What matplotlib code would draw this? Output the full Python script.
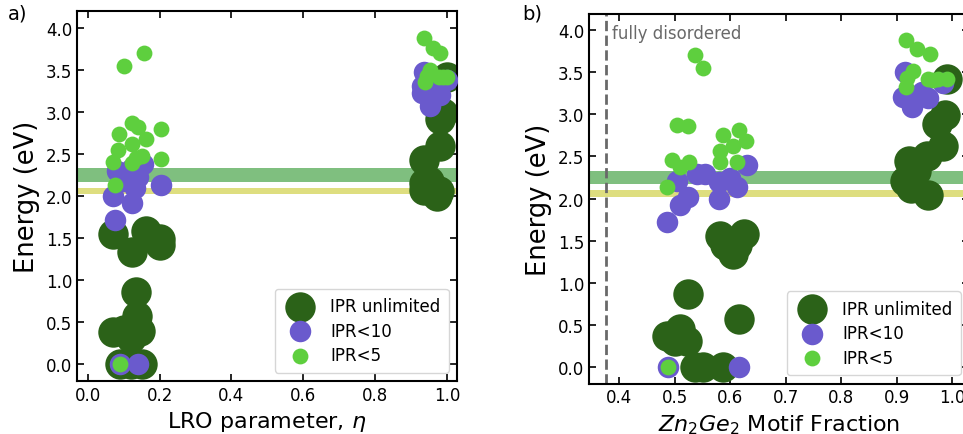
import numpy as np
import matplotlib
matplotlib.use('Agg')
import matplotlib.pyplot as plt

# ---- data ----
# panel a) LRO parameter eta
eta_unl = [0.07, 0.163, 0.20, 0.20, 0.124, 0.133, 0.137, 0.07, 0.12, 0.144, 0.10, 0.09, 0.15, 0.12,
           0.935, 0.935, 0.935, 0.972, 0.981, 0.98, 0.99, 1.0, 0.949, 0.977]
E_unl_a = [1.55, 1.58, 1.49, 1.42, 1.33, 0.86, 0.57, 0.38, 0.31, 0.40, 0.41, 0.0, 0.0, 0.0,
           2.43, 2.16, 2.07, 2.00, 2.59, 2.91, 2.99, 3.42, 2.18, 2.06]
eta_10 = [0.07, 0.077, 0.124, 0.203, 0.08, 0.155, 0.14, 0.11, 0.13, 0.10, 0.12, 0.091, 0.14,
          0.935, 0.93, 0.93, 0.953, 0.98, 1.0, 0.96]
E_10_a = [2.00, 1.71, 1.92, 2.13, 2.30, 2.38, 2.23, 2.25, 2.10, 2.18, 2.32, 0.0, 0.0,
          3.48, 3.31, 3.22, 3.07, 3.20, 3.38, 3.30]
eta_5 = [0.10, 0.156, 0.124, 0.14, 0.086, 0.203, 0.163, 0.124, 0.085, 0.07, 0.124, 0.15, 0.203,
         0.077, 0.135, 0.091,
         0.935, 0.96, 0.98, 0.953, 0.94, 0.977, 1.0, 0.99, 0.945]
E_5_a = [3.55, 3.70, 2.87, 2.82, 2.74, 2.80, 2.68, 2.62, 2.55, 2.41, 2.39, 2.47, 2.44,
         2.13, 2.45, 0.0,
         3.88, 3.76, 3.70, 3.50, 3.35, 3.42, 3.42, 3.42, 3.43]

# panel b) Zn2Ge2 motif fraction
frac_unl = [0.581, 0.625, 0.604, 0.612, 0.59, 0.523, 0.616, 0.485, 0.509, 0.521, 0.50,
            0.536, 0.55, 0.586,
            0.987, 0.972, 0.984, 0.954, 0.921, 0.935, 0.915, 0.925, 0.956, 0.99]
E_unl_b = [1.56, 1.58, 1.34, 1.45, 1.45, 0.87, 0.57, 0.37, 0.45, 0.31, 0.30,
           0.0, 0.0, 0.0,
           2.99, 2.89, 2.63, 2.51, 2.45, 2.33, 2.21, 2.12, 2.04, 3.42]
frac_10 = [0.486, 0.509, 0.524, 0.503, 0.539, 0.554, 0.58, 0.58, 0.611, 0.63, 0.60, 0.488, 0.616,
           0.915, 0.911, 0.927, 0.957, 0.945, 0.983]
E_10_b = [1.72, 1.92, 2.02, 2.21, 2.29, 2.29, 2.00, 2.20, 2.14, 2.40, 2.25, 0.0, 0.0,
          3.50, 3.21, 3.09, 3.19, 3.27, 3.37]
frac_5 = [0.536, 0.55, 0.503, 0.524, 0.494, 0.509, 0.526, 0.486, 0.586, 0.616, 0.628, 0.604,
          0.581, 0.581, 0.611, 0.488,
          0.916, 0.937, 0.959, 0.93, 0.917, 0.918, 0.957, 0.975, 0.99, 0.966]
E_5_b = [3.71, 3.55, 2.87, 2.86, 2.46, 2.37, 2.43, 2.14, 2.75, 2.81, 2.69, 2.63,
         2.57, 2.43, 2.44, 0.0,
         3.89, 3.78, 3.72, 3.52, 3.33, 3.43, 3.42, 3.42, 3.42, 3.41]

# reference bands (eV)
band_green = (2.17, 2.33)
band_yellow = (2.02, 2.10)
disordered = 0.375

c_unl = '#2b6218'
c_10 = '#6a5acd'
c_5 = '#5ecf3e'

fig = plt.figure(figsize=(9.63, 4.35), dpi=100)
ax1 = fig.add_axes([0.080, 0.1218, 0.3946, 0.8506])
ax2 = fig.add_axes([0.6116, 0.116, 0.3946, 0.8506])

panels = [(ax1, eta_unl, E_unl_a, eta_10, E_10_a, eta_5, E_5_a),
          (ax2, frac_unl, E_unl_b, frac_10, E_10_b, frac_5, E_5_b)]

for ax, xu, yu, x10, y10, x5, y5 in panels:
    ax.axhspan(*band_green, color='green', alpha=0.5, lw=0, zorder=1)
    ax.axhspan(*band_yellow, color='y', alpha=0.5, lw=0, zorder=1)
    ax.scatter(xu, yu, s=480, color=c_unl, linewidths=0, label='IPR unlimited', zorder=2)
    ax.scatter(x10, y10, s=240, color=c_10, linewidths=0, label='IPR<10', zorder=3)
    ax.scatter(x5, y5, s=130, color=c_5, linewidths=0, label='IPR<5', zorder=4)
    ax.set_ylim(-0.2, 4.2)
    ax.set_yticks(np.arange(0, 4.01, 0.5))
    ax.set_ylabel('Energy (eV)', fontsize=18.5)
    ax.tick_params(direction='in', top=True, right=True, labelsize=12, length=5, width=1.2)
    for sp in ax.spines.values():
        sp.set_linewidth(1.5)
    ax.legend(loc='lower right', fontsize=12, borderpad=0.5, labelspacing=0.4)

ax1.set_xlim(-0.03, 1.028)
ax1.set_xticks(np.arange(0, 1.01, 0.2))
ax1.set_xlabel(r'LRO parameter, $\eta$', fontsize=16)

ax2.set_xlim(0.345, 1.03)
ax2.set_xticks(np.arange(0.4, 1.01, 0.1))
ax2.set_xlabel(r'$Zn_2Ge_2$ Motif Fraction', fontsize=16)
ax2.axvline(disordered, color='dimgray', ls='--', lw=2, zorder=1)
ax2.text(disordered + 0.012, 3.97, 'fully disordered', color='dimgray', fontsize=12,
         va='center', ha='left')

fig.text(0.008, 0.955, 'a)', fontsize=14)
fig.text(0.542, 0.955, 'b)', fontsize=14)

fig.savefig('out.png', dpi=100)
